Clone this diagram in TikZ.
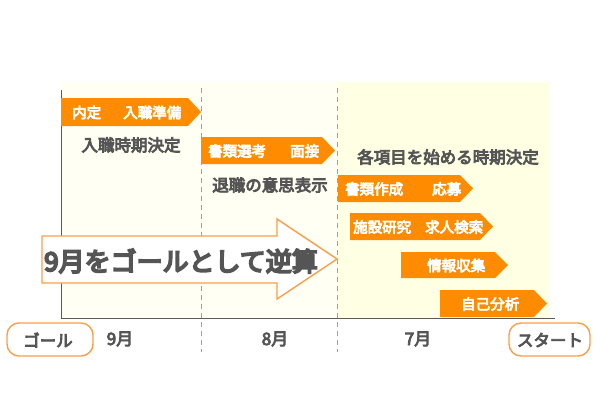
\documentclass[tikz,border=0pt]{standalone}
\usepackage{fontspec}
\newfontfamily\jp{Noto Sans CJK JP}[FakeBold=5]
\newfontfamily\jpx{Noto Sans CJK JP}[FakeBold=7]
\definecolor{orng}{RGB}{255,140,0}
\definecolor{orline}{RGB}{247,160,75}
\definecolor{txtgray}{RGB}{85,85,85}
\definecolor{axgray}{RGB}{90,90,90}
\definecolor{dashgray}{RGB}{160,160,160}
\definecolor{creamA}{RGB}{255,255,243}
\definecolor{creamB}{RGB}{255,255,228}
\begin{document}
\begin{tikzpicture}[x=1pt,y=-1pt,
  lbl/.style={font=\jp\fontsize{14.5}{15}\selectfont, text=white, inner sep=0pt, anchor=west},
  dark/.style={font=\jp\fontsize{16.5}{17}\selectfont, text=txtgray, inner sep=0pt},
  month/.style={font=\jp\fontsize{17}{18}\selectfont, text=txtgray, inner sep=0pt},
  big/.style={font=\jpx\fontsize{26}{27}\selectfont, text=txtgray, inner sep=0pt},
  orarrow/.style={fill=orng},
  bigarrow/.style={draw=orline, line width=1.4pt, fill=white, line join=miter},
  pill/.style={draw=orline, line width=1.4pt, rounded corners=12pt, fill=white},
  axis/.style={draw=axgray, line width=0.9pt},
  sep/.style={draw=dashgray, line width=0.8pt, dash pattern=on 5pt off 4pt}]
\useasboundingbox (0,0) rectangle (600,400);
% column backgrounds
\fill[creamA] (61,82) rectangle (337,318);
\fill[creamB] (337,82) rectangle (550,318);
% separators
\draw[sep] (201,88) -- (201,352);
\draw[sep] (337,88) -- (337,352);
% axes
\draw[axis] (61,90) -- (61,318) -- (555,318);
% orange arrows
\fill[orarrow] (61,98) -- (188,98) -- (201,112) -- (188,126) -- (61,126) -- cycle;
\node[lbl] (a1) at (72,112.5) {内定\hspace{22pt}入職準備};
\fill[orarrow] (201,137) -- (322,137) -- (335,150.5) -- (322,164) -- (201,164) -- cycle;
\node[lbl] (a2) at (208,151) {書類選考\hspace{24pt}面接};
\fill[orarrow] (338,175) -- (460,175) -- (473,188.5) -- (460,202) -- (338,202) -- cycle;
\node[lbl] (a3) at (345,189) {書類作成\hspace{29pt}応募};
\fill[orarrow] (350,213) -- (480,213) -- (493,226.5) -- (480,240) -- (350,240) -- cycle;
\node[lbl] (a4) at (353,227) {施設研究\hspace{14pt}求人検索};
\fill[orarrow] (401,252) -- (495,252) -- (508,265) -- (495,278) -- (401,278) -- cycle;
\node[lbl] (a5) at (427,265.5) {情報収集};
\fill[orarrow] (440,290) -- (534,290) -- (547,303.5) -- (534,317) -- (440,317) -- cycle;
\node[lbl] (a6) at (461,304) {自己分析};
% dark labels
\node[dark] (t1) at (131,145) {入職時期決定};
\node[dark] (t2) at (270,185) {退職の意思表示};
\node[dark] (t3) at (448,157) {各項目を始める時期決定};
% big arrow
\draw[bigarrow] (42,236) -- (277,236) -- (277,219) -- (337,259) -- (277,299) -- (277,283) -- (42,283) -- cycle;
\node[big] (bt) at (181,261) {9月をゴールとして逆算};
% bottom
\draw[pill] (7,323) rectangle (93,356);
\node[dark] (goal) at (48,340) {ゴール};
\draw[pill] (509,323) rectangle (590,356);
\node[dark] (start) at (550,340) {スタート};
\node[month] (m9) at (120,339) {9月};
\node[month] (m8) at (275,339) {8月};
\node[month] (m7) at (418,339) {7月};
\end{tikzpicture}
\end{document}
